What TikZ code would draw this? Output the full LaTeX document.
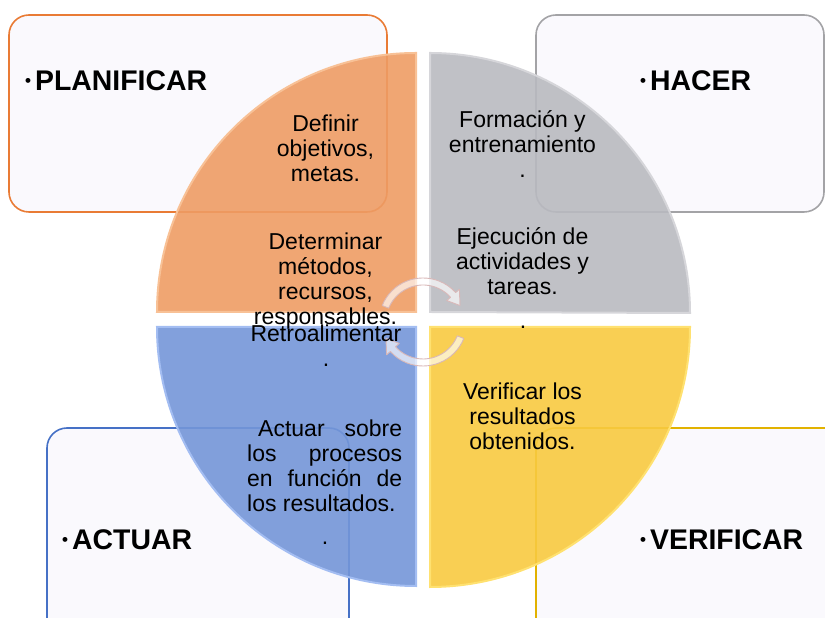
\documentclass[tikz,border=0pt]{standalone}
\usepackage{fontspec}
\setmainfont{Liberation Sans}
\usetikzlibrary{arrows.meta}

\definecolor{fondocaja}{HTML}{FAF9FD}
\definecolor{bordeplan}{HTML}{E97B35}
\definecolor{bordehacer}{HTML}{A3A3A6}
\definecolor{bordeactuar}{HTML}{4671C6}
\definecolor{bordeverif}{HTML}{E2B200}
\definecolor{planif}{HTML}{EE9C64}
\definecolor{planifclaro}{HTML}{F8C196}
\definecolor{hacer}{HTML}{B9BAC0}
\definecolor{hacerclaro}{HTML}{D6D6DA}
\definecolor{actuar}{HTML}{7496D8}
\definecolor{actuarclaro}{HTML}{A3BDF2}
\definecolor{verif}{HTML}{F8CA40}
\definecolor{verifclaro}{HTML}{FFE170}
\definecolor{giroborde}{HTML}{D9B8B8}

\newcommand{\vineta}{{\fontsize{17}{17}\selectfont\raisebox{4.5pt}{•}}\hspace{4pt}}

\begin{document}
\begin{tikzpicture}[x=1pt,y=1pt,
    caja/.style={line width=1.6pt,fill=fondocaja,rounded corners=20pt},
    cuarto/.style={line width=2pt,fill opacity=0.9},
    texto/.style={inner sep=0pt,anchor=base,align=center,font=\fontsize{23}{25}\selectfont},
    titulo/.style={inner sep=0pt,anchor=base west,font=\fontsize{28.4}{30}\selectfont\bfseries},
    giro/.style={fill=white,fill opacity=0.65,draw=giroborde,line width=0.9pt,line join=round}]

    \clip (0,0) rectangle (825,618);

    % cajas
    \draw [caja,draw=bordeplan] (9,406) rectangle (387,603);
    \draw [caja,draw=bordehacer] (536,406) rectangle (824,603);
    \draw [caja,draw=bordeactuar] (47,-20) rectangle (349,190);
    \draw [caja,draw=bordeverif] (536,-20) rectangle (850,190);

    % cuartos del circulo
    \filldraw [cuarto,fill=planif,draw=planifclaro] (416,306) -- ++(-259,0) arc [start angle=180,end angle=90,radius=259] -- cycle;
    \filldraw [cuarto,fill=hacer,draw=hacerclaro] (430,306) -- ++(0,259) arc [start angle=90,end angle=0,radius=260] -- cycle;
    \filldraw [cuarto,fill=actuar,draw=actuarclaro] (416,291) -- ++(0,-259) arc [start angle=270,end angle=180,radius=259] -- cycle;
    \filldraw [cuarto,fill=verif,draw=verifclaro] (430,291) -- ++(260,0) arc [start angle=0,end angle=-90,radius=260] -- cycle;

    % flechas circulares
    \coordinate (centro) at (423,296);
    \draw [giro] ([shift={(158:44)}]centro) arc [start angle=158,end angle=42,radius=44]
        -- ([shift={(42:49)}]centro) -- ([shift={(24:40.5)}]centro) -- ([shift={(42:32)}]centro)
        -- ([shift={(42:37)}]centro) arc [start angle=42,end angle=158,radius=37] -- cycle;
    \draw [giro] ([shift={(-22:44)}]centro) arc [start angle=-22,end angle=-138,radius=44]
        -- ([shift={(-138:49)}]centro) -- ([shift={(-156:40.5)}]centro) -- ([shift={(-138:32)}]centro)
        -- ([shift={(-138:37)}]centro) arc [start angle=-138,end angle=-22,radius=37] -- cycle;

    % titulos
    \node [titulo] (planificar) at (25,527) {\vineta PLANIFICAR};
    \node [titulo] (hacerlbl) at (640,527) {\vineta HACER};
    \node [titulo] (actuarlbl) at (62,68) {\vineta ACTUAR};
    \node [titulo] (verificar) at (640,68) {\vineta VERIFICAR};

    % textos (base = ultima linea)
    \node [texto] (definir) at (325.5,436) {Definir\\objetivos,\\metas.};
    \node [texto] (determinar) at (325.5,293) {Determinar\\métodos,\\recursos,\\responsables.};
    \node [texto] (formacion) at (522.5,440) {Formación y\\entrenamiento\\.};
    \node [texto] (ejecucion) at (522.5,323) {Ejecución de\\actividades y\\tareas.};
    \node [texto] (puntohacer) at (523,289) {.};
    \node [texto] (retro) at (326,251) {Retroalimentar\\.};
    \node [texto,anchor=base west,align=justify,text width=155pt] (actuarsobre) at (247,181)
        {\hspace*{11pt}Actuar sobre\linebreak los procesos\linebreak en función de\linebreak los resultados.};
    \node [texto] (puntoactuar) at (325,73) {.};
    \node [texto] (verifres) at (522.5,168) {Verificar los\\resultados\\obtenidos.};

\end{tikzpicture}
\end{document}
